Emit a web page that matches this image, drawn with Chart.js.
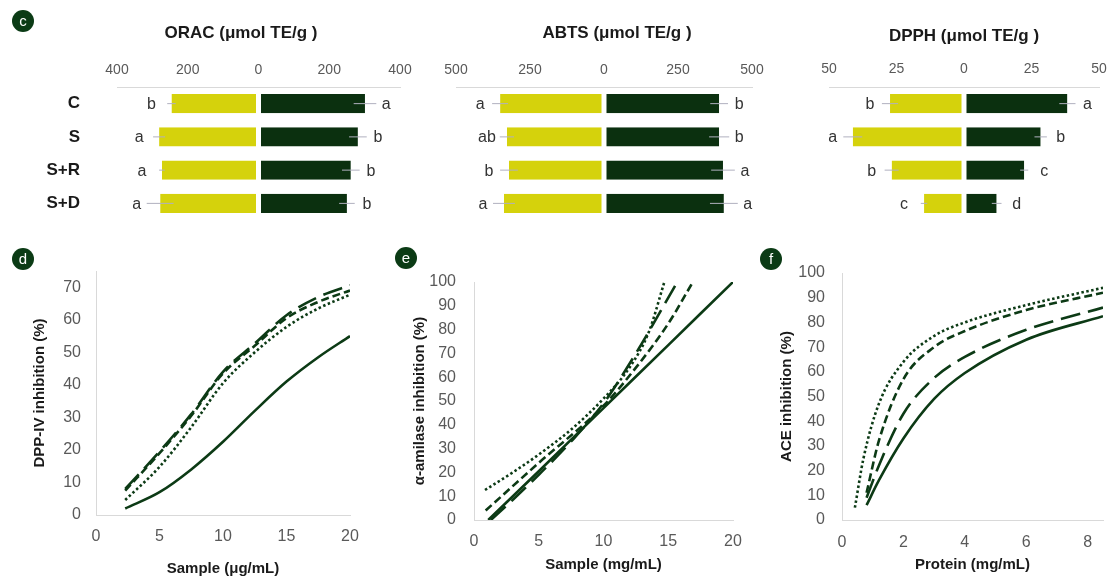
<!DOCTYPE html>
<html><head><meta charset="utf-8">
<script src="https://cdn.jsdelivr.net/npm/chart.js@4.4.1/dist/chart.umd.min.js"></script>
<style>
html,body{margin:0;padding:0;background:#fff;}
#wrap{position:relative;width:1107px;height:576px;overflow:hidden;background:#fff;}
canvas{position:absolute;left:0;top:0;}
</style></head><body><div id="wrap">
<canvas id="cOrac" width="1107" height="576"></canvas>
<canvas id="cAbts" width="1107" height="576"></canvas>
<canvas id="cDpph" width="1107" height="576"></canvas>
<canvas id="cDpp" width="1107" height="576"></canvas>
<canvas id="cAmy" width="1107" height="576"></canvas>
<canvas id="cAce" width="1107" height="576"></canvas>
</div>
<script>
// ---------- DATA ----------
const groups = ['C', 'S', 'S+R', 'S+D'];

// Panel c – antioxidant capacity (µmol TE/g); left = yellow bars, right = dark bars
const oracLeft = [246, 281, 273, 278];
const oracRight = [301, 281, 261, 250];
const oracErrLeft = [12, 17, 8, 38];
const oracErrRight = [32, 25, 25, 22];
const oracLetLeft = ['b', 'a', 'a', 'a'];
const oracLetRight = ['a', 'b', 'b', 'b'];

const abtsLeft = [351, 328, 321, 338];
const abtsRight = [389, 389, 402, 405];
const abtsErrLeft = [27, 24, 30, 37];
const abtsErrRight = [30, 34, 40, 47];
const abtsLetLeft = ['a', 'ab', 'b', 'a'];
const abtsLetRight = ['b', 'b', 'a', 'a'];

const dpphLeft = [27.4, 41.2, 26.8, 14.8];
const dpphRight = [38.3, 28.4, 22.3, 12.1];
const dpphErrLeft = [3, 3.5, 2.6, 1.2];
const dpphErrRight = [3, 2.3, 1.5, 1.8];
const dpphLetLeft = ['b', 'a', 'b', 'c'];
const dpphLetRight = ['a', 'b', 'c', 'd'];

// Panel d – DPP-IV inhibition (%) vs sample (µg/mL)
const dppX = [2.3, 5, 7.5, 10, 12.5, 15, 17.5, 20];
const dppC = [2, 7, 14, 22.5, 32, 41, 48.5, 55];
const dppS = [8, 19.5, 31, 44, 52.7, 61.4, 67, 70.6];
const dppSR = [7.5, 19, 30.5, 43.5, 52, 60.5, 65.5, 69];
const dppSD = [4.6, 14.8, 27, 40.5, 50, 57.8, 63.5, 67.7];

// Panel e – alpha-amylase inhibition (%) vs sample (mg/mL)
const amyXC = [1.1, 5, 10, 15, 20];
const amyC = [0, 20.5, 47, 73.5, 100];
const amyXS = [1.3, 3, 5, 7.5, 10, 12.5, 15.7];
const amyS = [0, 8.5, 19, 33, 49, 70, 100];
const amyXSR = [0.9, 5, 10, 12.5, 15, 16.9];
const amySR = [4, 24, 48, 64, 82.5, 100];
const amyXSD = [0.85, 3, 5, 7.5, 10, 12, 13.5, 14.7];
const amySD = [12.6, 20, 27.5, 38, 51, 64, 79, 100];

// Panel f – ACE inhibition (%) vs protein (mg/mL)
const aceX = [0.8, 1.2, 2, 3, 4, 6, 8.5];
const aceC = [6, 16, 33, 49, 59.5, 73, 82.5];
const aceS = [9, 22, 43, 57.5, 66, 77, 86];
const aceSR = [11, 32, 57, 70, 76.5, 85, 92];
const aceXSD = [0.42, 0.7, 1.2, 2, 3, 4, 6, 8.5];
const aceSD = [5, 25, 47, 64, 74.5, 80, 87, 94];

// ---------- STYLE ----------
Chart.defaults.font.family = '"Liberation Sans", Arial, sans-serif';
const FONT = '"Liberation Sans", Arial, sans-serif';
const DARK = '#0c3a15';
const BAR_DARK = '#0b300f';
const BAR_YEL = '#d5d20c';
const AXIS = '#d9d9d9';
const TICK = '#595959';
const INK = '#1a1a1a';

function fixed(w, h) {
  return s => {
    if (w !== null) s.width = w;
    if (h !== null) s.height = h;
    s.paddingLeft = 0; s.paddingRight = 0; s.paddingTop = 0; s.paddingBottom = 0;
  };
}
function evenTicks(step) {
  return s => {
    const t = [];
    for (let k = Math.ceil(s.min / step - 1e-9); k * step <= s.max + 1e-9; k++) t.push({ value: k * step });
    s.ticks = t;
  };
}

const deco = {
  id: 'deco',
  afterDraw(chart, args, o) {
    const ctx = chart.ctx;
    ctx.save();
    (o.texts || []).forEach(t => {
      ctx.font = t.font; ctx.fillStyle = t.color || INK;
      ctx.textAlign = 'center'; ctx.textBaseline = 'middle';
      ctx.fillText(t.text, t.x, t.y);
    });
    (o.circles || []).forEach(c => {
      ctx.beginPath(); ctx.arc(c.x, c.y, 11, 0, Math.PI * 2);
      ctx.fillStyle = '#0b3b15'; ctx.fill();
      ctx.font = '15px ' + FONT; ctx.fillStyle = '#fff';
      ctx.textAlign = 'center'; ctx.textBaseline = 'middle';
      ctx.fillText(c.t, c.x, c.y + 1);
    });
    ctx.restore();
  }
};

const barExtras = {
  id: 'barExtras',
  afterDatasetsDraw(chart) {
    const ctx = chart.ctx, xs = chart.scales.x;
    chart.data.datasets.forEach((ds, di) => {
      const meta = chart.getDatasetMeta(di);
      meta.data.forEach((bar, i) => {
        const v = ds.data[i], e = ds.errors[i];
        const x1 = xs.getPixelForValue(v - e), x2 = xs.getPixelForValue(v + e);
        ctx.save();
        ctx.strokeStyle = '#b0b0bf'; ctx.lineWidth = 1;
        ctx.beginPath(); ctx.moveTo(x1, bar.y); ctx.lineTo(x2, bar.y); ctx.stroke();
        const neg = v < 0;
        const cx = neg ? Math.min(bar.x - 20, Math.min(x1, x2) - 10)
                       : Math.max(bar.x + 20, Math.max(x1, x2) + 10);
        ctx.font = '16px ' + FONT; ctx.fillStyle = '#333';
        ctx.textAlign = 'center'; ctx.textBaseline = 'middle';
        ctx.fillText(ds.letters[i], cx, bar.y + 1);
        ctx.restore();
      });
    });
  }
};

function barChart(id, o) {
  return new Chart(document.getElementById(id), {
    type: 'bar',
    data: {
      labels: groups,
      datasets: [
        { data: o.left.map(v => -v), errors: o.errL, letters: o.letL,
          backgroundColor: BAR_YEL, borderColor: '#fff', borderSkipped: false,
          borderWidth: { left: 0, top: 0, bottom: 0, right: 2.5 },
          barPercentage: 0.58, categoryPercentage: 1 },
        { data: o.right, errors: o.errR, letters: o.letR,
          backgroundColor: BAR_DARK, borderColor: '#fff', borderSkipped: false,
          borderWidth: { left: 2.5, top: 0, bottom: 0, right: 0 },
          barPercentage: 0.58, categoryPercentage: 1 }
      ]
    },
    options: {
      indexAxis: 'y', responsive: false, animation: false, devicePixelRatio: 1,
      layout: { padding: o.pad },
      scales: {
        x: {
          position: 'top', stacked: true, min: -o.max, max: o.max,
          ticks: { stepSize: o.step, callback: v => Math.abs(v), padding: o.tickPad,
                   color: TICK, font: { size: 14 }, maxRotation: 0 },
          afterBuildTicks: evenTicks(o.step),
          grid: { display: false, drawTicks: false },
          border: { display: true, color: AXIS, width: 1 },
          afterFit: fixed(null, 30)
        },
        y: {
          stacked: true,
          grid: { display: false, drawTicks: false },
          border: { display: false },
          ticks: { display: o.showCats, padding: 37, color: INK, font: { size: 17, weight: 'bold' } },
          afterFit: fixed(o.yW, null)
        }
      },
      plugins: { legend: { display: false }, tooltip: { enabled: false }, deco: o.deco }
    },
    plugins: [deco, barExtras]
  });
}

const TITLE_FONT = 'bold 17px ' + FONT;
barChart('cOrac', {
  left: oracLeft, right: oracRight, errL: oracErrLeft, errR: oracErrRight,
  letL: oracLetLeft, letR: oracLetRight, max: 400, step: 200, tickPad: 8.6,
  showCats: true, yW: 100, pad: { left: 17, right: 707, top: 57, bottom: 356 },
  deco: { texts: [{ text: 'ORAC (μmol TE/g )', x: 241, y: 33, font: TITLE_FONT }],
          circles: [{ t: 'c', x: 23, y: 21 }] }
});
barChart('cAbts', {
  left: abtsLeft, right: abtsRight, errL: abtsErrLeft, errR: abtsErrRight,
  letL: abtsLetLeft, letR: abtsLetRight, max: 500, step: 250, tickPad: 8.6,
  showCats: false, yW: 0, pad: { left: 456, right: 355, top: 57, bottom: 356 },
  deco: { texts: [{ text: 'ABTS (μmol TE/g )', x: 617, y: 33, font: TITLE_FONT }] }
});
barChart('cDpph', {
  left: dpphLeft, right: dpphRight, errL: dpphErrLeft, errR: dpphErrRight,
  letL: dpphLetLeft, letR: dpphLetRight, max: 50, step: 25, tickPad: 9.6,
  showCats: false, yW: 0, pad: { left: 829, right: 8, top: 57, bottom: 356 },
  deco: { texts: [{ text: 'DPPH (μmol TE/g )', x: 964, y: 36, font: TITLE_FONT }] }
});

const STYLES = {
  solid: [],
  longDash: [20, 8],
  shortDash: [8, 4],
  dotted: [2.5, 2.5]
};
function series(label, xs, ys, dash) {
  return {
    label, data: xs.map((x, i) => ({ x, y: ys[i] })),
    borderColor: DARK, borderWidth: 2.6, borderDash: dash, borderCapStyle: 'butt',
    pointRadius: 0, cubicInterpolationMode: 'monotone', fill: false
  };
}

function lineChart(id, o) {
  return new Chart(document.getElementById(id), {
    type: 'line',
    data: { datasets: o.datasets },
    options: {
      responsive: false, animation: false, devicePixelRatio: 1,
      layout: { padding: o.pad },
      scales: {
        x: {
          type: 'linear', min: 0, max: o.xMax,
          ticks: { padding: o.xTickPad, color: TICK, font: { size: 16 }, maxRotation: 0, autoSkip: false },
          afterBuildTicks: evenTicks(o.xStep),
          grid: { display: false, drawTicks: false },
          border: { display: true, color: AXIS, width: 1 },
          title: { display: true, text: o.xTitle, color: INK,
                   font: { size: 15, weight: 'bold', lineHeight: 1 },
                   padding: { top: 0, bottom: o.xTitlePad } },
          afterFit: fixed(null, o.xH)
        },
        y: {
          type: 'linear', min: 0, max: o.yMax,
          ticks: { padding: o.yTickPad, color: TICK, font: { size: 16 }, autoSkip: false },
          afterBuildTicks: evenTicks(10),
          grid: { display: false, drawTicks: false },
          border: { display: true, color: AXIS, width: 1 },
          title: { display: true, text: o.yTitle, color: INK,
                   font: { size: 15, weight: 'bold', lineHeight: 1.2 },
                   padding: { top: 0, bottom: 0 } },
          afterFit: fixed(o.yW, null)
        }
      },
      plugins: { legend: { display: false }, tooltip: { enabled: false }, deco: o.deco }
    },
    plugins: [deco]
  });
}

lineChart('cDpp', {
  datasets: [
    series('C', dppX, dppC, STYLES.solid),
    series('S', dppX, dppS, STYLES.longDash),
    series('S+R', dppX, dppSR, STYLES.shortDash),
    series('S+D', dppX, dppSD, STYLES.dotted)
  ],
  xMax: 20, xStep: 5, yMax: 75,
  xTitle: 'Sample (μg/mL)', yTitle: 'DPP-IV inhibition (%)',
  pad: { left: 31, right: 757, top: 271, bottom: 0 }, yW: 65, xH: 61,
  xTickPad: 12.4, yTickPad: 15, xTitlePad: 0,
  deco: { circles: [{ t: 'd', x: 23, y: 259 }] }
});

lineChart('cAmy', {
  datasets: [
    series('C', amyXC, amyC, STYLES.solid),
    series('S', amyXS, amyS, STYLES.longDash),
    series('S+R', amyXSR, amySR, STYLES.shortDash),
    series('S+D', amyXSD, amySD, STYLES.dotted)
  ],
  xMax: 20, xStep: 5, yMax: 100,
  xTitle: 'Sample (mg/mL)', yTitle: 'α-amilase inhibition (%)',
  pad: { left: 411, right: 374, top: 282, bottom: 0 }, yW: 63, xH: 56,
  xTickPad: 12.4, yTickPad: 18, xTitlePad: 3.5,
  deco: { circles: [{ t: 'e', x: 406, y: 258 }] }
});

lineChart('cAce', {
  datasets: [
    series('C', aceX, aceC, STYLES.solid),
    series('S', aceX, aceS, STYLES.longDash),
    series('S+R', aceX, aceSR, STYLES.shortDash),
    series('S+D', aceXSD, aceSD, STYLES.dotted)
  ],
  xMax: 8.5, xStep: 2, yMax: 100,
  xTitle: 'Protein (mg/mL)', yTitle: 'ACE inhibition (%)',
  pad: { left: 778, right: 4, top: 273, bottom: 0 }, yW: 64, xH: 56,
  xTickPad: 13.4, yTickPad: 17, xTitlePad: 3.5,
  deco: { circles: [{ t: 'f', x: 771, y: 259 }] }
});
</script>
</body></html>
